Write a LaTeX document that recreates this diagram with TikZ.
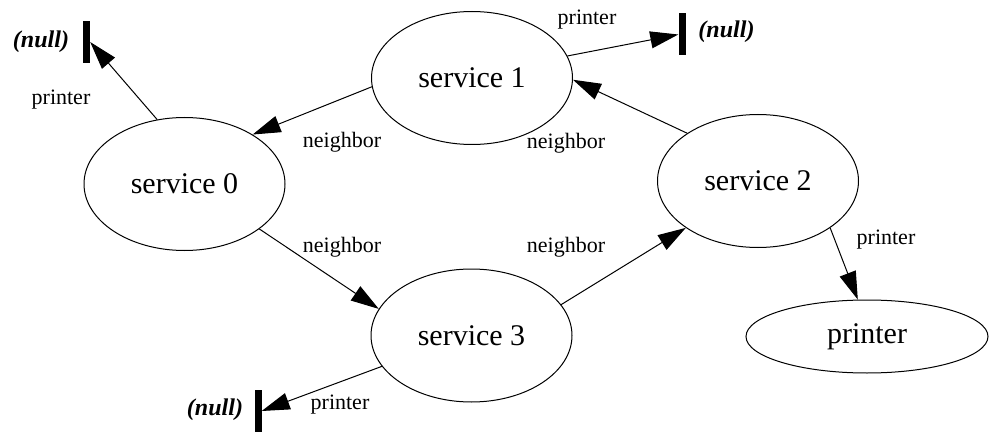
\documentclass[tikz,border=0pt]{standalone}
\usepackage{fontspec}
\setmainfont{Liberation Serif}
\usetikzlibrary{arrows.meta,shapes.geometric}
\begin{document}
\begin{tikzpicture}[x=1pt,y=1pt,
  svc/.style={draw, ellipse, line width=1pt, minimum width=201pt, minimum height=133pt, inner sep=0pt, font=\fontsize{30}{36}\selectfont},
  lbl/.style={font=\fontsize{22}{26}\selectfont, inner sep=0pt},
  nulltxt/.style={font=\fontsize{24}{28}\selectfont\bfseries\itshape, inner sep=0pt},
  nullbar/.style={fill=black, minimum width=7pt, minimum height=42pt, inner sep=0pt},
  arr/.style={-{Triangle[length=28pt,width=17pt]}, line width=1pt}]
\useasboundingbox (0,0) rectangle (989,432);
% service nodes
\node[svc] (s1) at (472,354) {service 1};
\node[svc] (s0) at (184.5,248) {service 0};
\node[svc] (s2) at (758,251) {service 2};
\node[svc] (s3) at (471.5,96.5) {service 3};
\node[svc, minimum width=242pt, minimum height=73pt] (pr) at (867,95.5) {printer};
% null markers
\node[nullbar] (b1) at (86.5,390) {};
\node[nulltxt] (t1) at (41,390) {(null)};
\node[nullbar] (b2) at (682,397.5) {};
\node[nulltxt] (t2) at (726.5,400) {(null)};
\node[nullbar] (b3) at (258,21) {};
\node[nulltxt] (t3) at (215,22) {(null)};
% edges
\draw[arr] (s0.113.5) -- (b1.east);
\draw[arr] (s1.13.5) -- (b2.west);
\draw[arr] (s1.185) -- (s0.36);
\draw[arr] (s2.146.7) -- (s1.359);
\draw[arr] (s0.329.1) -- (s3.164.7);
\draw[arr] (s3.19.8) -- (s2.213);
\draw[arr] (s2.327.4) -- (pr.104.6);
\draw[arr] (s3.199) -- (b3.east);
% edge labels
\node[lbl] (l1) at (61,332) {printer};
\node[lbl] (l2) at (587,412) {printer};
\node[lbl] (l3) at (342,290) {neighbor};
\node[lbl] (l4) at (566,289) {neighbor};
\node[lbl] (l5) at (342,185) {neighbor};
\node[lbl] (l6) at (566,185) {neighbor};
\node[lbl] (l7) at (886,192) {printer};
\node[lbl] (l8) at (340,27) {printer};
\end{tikzpicture}
\end{document}
